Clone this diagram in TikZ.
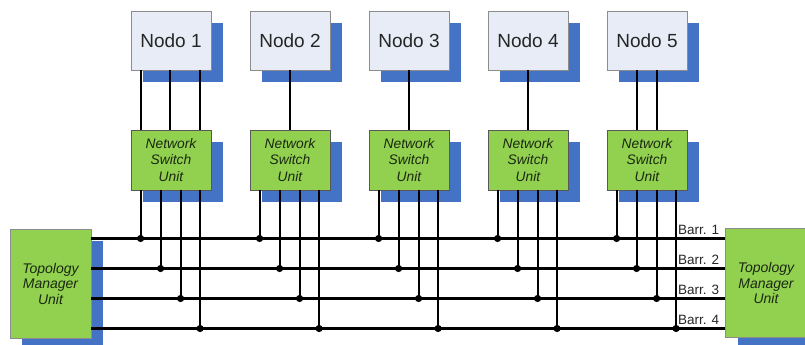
\documentclass[tikz,border=0pt]{standalone}
\usepackage{fontspec}
\setmainfont{Liberation Sans}
\usetikzlibrary{shadows,calc}
\definecolor{nodefill}{HTML}{E7ECF7}
\definecolor{shadowblue}{HTML}{4472C4}
\definecolor{unitgreen}{HTML}{92D050}
\definecolor{unittext}{HTML}{1A2810}
\begin{document}
\begin{tikzpicture}[x=1pt,y=-1pt,
  blueshadow/.style={general shadow={shadow xshift=12pt, shadow yshift=-12pt, fill=shadowblue}},
  nodobox/.style={draw=black!45, line width=0.8pt, fill=nodefill, minimum width=80pt,
    minimum height=59pt, inner sep=0pt, text=black!85, font=\fontsize{19}{21}\selectfont, blueshadow},
  switchbox/.style={draw=black!65, line width=0.8pt, fill=unitgreen, minimum width=80pt,
    minimum height=60pt, inner sep=0pt, align=center, text=unittext,
    font=\fontsize{13.8}{16.5}\selectfont\itshape, blueshadow},
  topobox/.style={switchbox, draw=black!45, minimum width=81pt, minimum height=109pt,
    font=\fontsize{14}{15.5}\selectfont\itshape},
  wire/.style={line width=2.2pt},
  bus/.style={line width=2.8pt},
  buslabel/.style={anchor=south west, inner sep=0pt, text=black!85, font=\fontsize{13.5}{15}\selectfont}
]
\useasboundingbox (0,0) rectangle (805,345);

% bus levels
\coordinate (b1) at (0,238.5);
\coordinate (b2) at (0,268.5);
\coordinate (b3) at (0,298.5);
\coordinate (b4) at (0,328.5);

% topology manager units
\node[topobox] (tl) at (50.5,283.5) {Topology\\Manager\\Unit};
\node[topobox] (tr) at (766,283) {Topology\\Manager\\Unit};

% nodes and their switch units
\foreach \i in {1,...,5} {
  \pgfmathsetmacro{\cx}{171+119*(\i-1)}
  \node[nodobox] (n\i) at (\cx,40.5) {Nodo \i};
  \node[switchbox] (s\i) at (\cx,160) {Network\\Switch\\Unit};
}

% buses between the two topology manager units
\foreach \k in {1,...,4}
  \draw[bus] (tl.east |- b\k) -- (tr.west |- b\k);

% bus labels
\node[buslabel] (l1) at (678,235) {Barr. 1};
\node[buslabel] (l2) at (678,265) {Barr. 2};
\node[buslabel] (l3) at (678,295) {Barr. 3};
\node[buslabel] (l4) at (678,325) {Barr. 4};

% switch units down to the buses, one tap per bus
\foreach \i in {1,...,5} {
  \foreach \k/\dx in {1/10,2/30,3/50,4/69.5} {
    \coordinate (w\i\k) at ($(s\i.south west)+(\dx,0)$);
    \draw[wire] (w\i\k) -- (w\i\k |- b\k);
    \fill (w\i\k |- b\k) circle (3.6pt);
  }
}

% node to switch links
\foreach \dx in {10,39.5,69}
  \draw[wire] ($(n1.south west)+(\dx,0)$) -- ($(s1.north west)+(\dx,0)$);
\foreach \i in {2,3,4}
  \draw[wire] (n\i.south) -- (s\i.north);
\foreach \dx in {30,50}
  \draw[wire] ($(n5.south west)+(\dx,0)$) -- ($(s5.north west)+(\dx,0)$);
\end{tikzpicture}
\end{document}
